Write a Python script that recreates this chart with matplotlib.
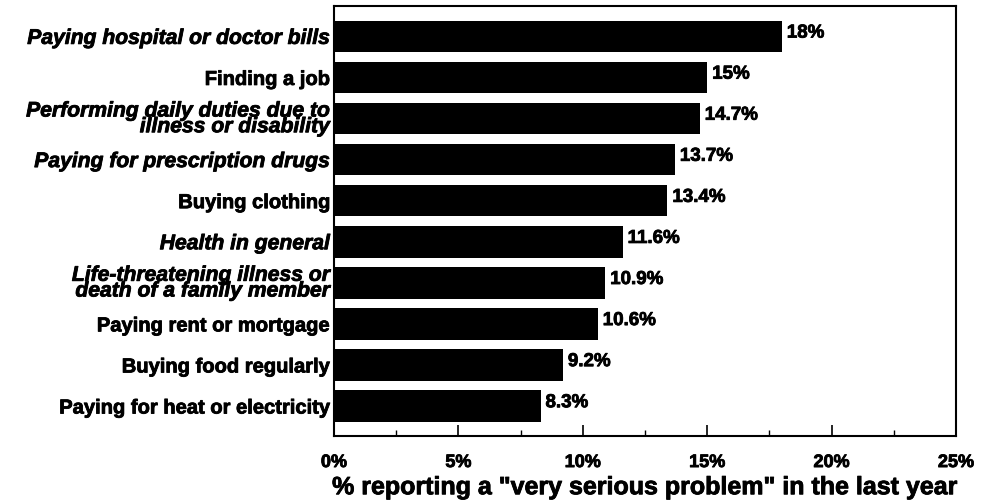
import matplotlib
matplotlib.use("Agg")
import matplotlib.pyplot as plt
import matplotlib.patheffects as pe
from matplotlib.ticker import MultipleLocator, FuncFormatter

plt.rcParams['font.family'] = ['Liberation Sans', 'DejaVu Sans']

problems = [
    "Paying hospital or doctor bills",
    "Finding a job",
    "Performing daily duties due to\nillness or disability",
    "Paying for prescription drugs",
    "Buying clothing",
    "Health in general",
    "Life-threatening illness or\ndeath of a family member",
    "Paying rent or mortgage",
    "Buying food regularly",
    "Paying for heat or electricity",
]
pct = [18, 15, 14.7, 13.7, 13.4, 11.6, 10.9, 10.6, 9.2, 8.3]
pct_labels = ["18%", "15%", "14.7%", "13.7%", "13.4%", "11.6%", "10.9%", "10.6%", "9.2%", "8.3%"]
italic = [True, False, True, True, False, True, True, False, False, False]

# slightly heavier strokes for the bold lettering
heavy = [pe.withStroke(linewidth=0.6, foreground='black')]

fig = plt.figure(figsize=(9.81, 5.02), dpi=100)
ax = fig.add_axes([0.3405, 0.1295, 0.634, 0.8566])

ypos = list(range(len(problems)))[::-1]
ax.barh(ypos, pct, height=0.77, color='black')

for y, v, txt in zip(ypos, pct, pct_labels):
    ax.text(v + 0.2, y + 0.08, txt, va='center', ha='left',
            fontsize=13.5, fontweight='bold', path_effects=heavy)

ax.set_xlim(0, 25)
ax.set_ylim(-0.73, len(problems) - 1 + 0.74)
ax.set_yticks(ypos)
ax.set_yticklabels(problems, fontsize=14.5, fontweight='bold', linespacing=0.78)
for lab, it in zip(ax.get_yticklabels(), italic):
    lab.set_path_effects(heavy)
    if it:
        lab.set_fontstyle('italic')
        lab.set_fontsize(15.2)
ax.tick_params(axis='y', length=0, pad=3)

ax.xaxis.set_major_locator(MultipleLocator(5))
ax.xaxis.set_minor_locator(MultipleLocator(2.5))
ax.xaxis.set_major_formatter(FuncFormatter(lambda v, p: f"{v:.0f}%"))
ax.tick_params(axis='x', which='major', direction='in', length=8, width=1.2,
               labelsize=13, pad=13)
ax.tick_params(axis='x', which='minor', direction='in', length=4, width=1.0)
for lab in ax.get_xticklabels():
    lab.set_fontweight('bold')
    lab.set_path_effects(heavy)

for s in ax.spines.values():
    s.set_linewidth(1.5)

ax.set_xlabel('% reporting a "very serious problem" in the last year',
              fontsize=18, fontweight='bold', labelpad=3,
              path_effects=heavy)

fig.savefig("out.png", dpi=100)
